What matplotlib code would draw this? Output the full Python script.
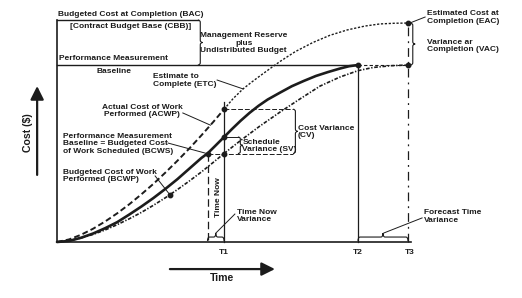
import matplotlib.pyplot as plt
from matplotlib.path import Path
from matplotlib.patches import PathPatch

# earned value diagram: time in weeks (T2 = 100), cost in $K (BAC = 100)
T_NOW, T1, T2, T3 = 50, 55.5, 100, 116.6
BAC, CBB, EAC = 100, 125.4, 123.7

bcws_t = [0, 4, 8, 12, 16, 20, 24, 28, 32, 36, 40, 44, 48, 50, 52.5, 55.5, 58, 61, 64, 67, 70, 74, 78, 82, 86, 90, 94, 97, 100]
bcws_c = [0, 0.6, 2.4, 4.8, 7.8, 11.2, 15.5, 20, 24.8, 30, 35.5, 41.5, 47.5, 50, 54.2, 59.3, 63.6, 68.5, 73, 77, 80.5, 84.3, 88, 91, 93.8, 96, 98, 99.3, 100]

acwp_t = [0, 4, 8, 12, 16, 20, 24, 28, 32, 36, 40, 44, 48, 52, 55.5]
acwp_c = [0, 1.45, 4.1, 7.5, 11.6, 16.2, 21.3, 26.9, 32.8, 39.2, 45.9, 52.9, 60.3, 68.0, 75]

bcwp_t = [0, 4, 8, 12, 16, 20, 24, 28, 32, 36, 40, 44, 48, 52, 55.5, 60.8, 67.4, 74.1, 80.7, 87.4, 94, 100, 105, 111, 116.6]
bcwp_c = [0, 0.7, 2.3, 4.3, 6.8, 9.8, 13.1, 16.7, 20.7, 25.0, 29.6, 34.5, 39.6, 45.1, 50, 57.1, 65.5, 73.4, 80.8, 88.1, 93.2, 96.8, 98.6, 99.6, 100]

etc_t = [55.5, 58.5, 61.8, 64.8, 67.4, 70.8, 74.1, 79.1, 85, 90.7, 96.4, 102.3, 107.3, 112.3, 116.6]
etc_c = [75, 81, 86.5, 90.5, 93.8, 98, 102, 107.5, 112.7, 116.8, 119.8, 122, 123.2, 123.6, 123.7]

ACWP_T1, BCWS_T1, BCWP_T1 = 75, 59.3, 50

plt.rcParams['font.family'] = ['Liberation Sans', 'DejaVu Sans']
plt.rcParams['font.weight'] = 'bold'
K = '#1c1c1c'
FS = 6.0

fig = plt.figure(figsize=(5.22, 2.98), dpi=100)
ax = fig.add_axes([0, 0, 1, 1])
ax.set_xlim(-57 / 3.01, 465 / 3.01)
ax.set_ylim(-56 / 1.77, 242 / 1.77)
ax.axis('off')


def brace_v(x, y0, y1, d=0.8, r=1.3):
    # vertical curly brace, tip to the right
    ym = (y0 + y1) / 2
    v = [(x, y1), (x + d, y1), (x + d, y1 - r), (x + d, ym + r),
         (x + d, ym), (x + 2 * d, ym), (x + d, ym), (x + d, ym - r),
         (x + d, y0 + r), (x + d, y0), (x, y0)]
    c = [Path.MOVETO, Path.CURVE3, Path.CURVE3, Path.LINETO,
         Path.CURVE3, Path.CURVE3, Path.CURVE3, Path.CURVE3,
         Path.LINETO, Path.CURVE3, Path.CURVE3]
    ax.add_patch(PathPatch(Path(v, c), fill=False, lw=0.8, color=K))


def brace_h(x0, x1, y, d=2.2, r=0.7):
    # horizontal curly brace, tip upward
    xm = (x0 + x1) / 2
    v = [(x0, y), (x0, y + d), (x0 + r, y + d), (xm - r, y + d),
         (xm, y + d), (xm, y + 2 * d), (xm, y + d), (xm + r, y + d),
         (x1 - r, y + d), (x1, y + d), (x1, y)]
    c = [Path.MOVETO, Path.CURVE3, Path.CURVE3, Path.LINETO,
         Path.CURVE3, Path.CURVE3, Path.CURVE3, Path.CURVE3,
         Path.LINETO, Path.CURVE3, Path.CURVE3]
    ax.add_patch(PathPatch(Path(v, c), fill=False, lw=0.8, color=K))


def pointer(x0, y0, x1, y1):
    ax.plot([x0, x1], [y0, y1], color=K, lw=0.7)


# frame lines
ax.plot([0, 0], [0, CBB], color=K, lw=1.2)
ax.plot([0, T3 + 1], [0, 0], color=K, lw=1.2)
ax.plot([0, 46.8], [CBB, CBB], color=K, lw=1.0)
ax.plot([0, T2], [BAC, BAC], color=K, lw=1.0)

# verticals
ax.plot([T1, T1], [0, 79], color=K, lw=0.9)
ax.plot([T2, T2], [0, BAC], color=K, lw=0.9)
ax.plot([T3, T3], [0, EAC], color=K, lw=0.9, ls=(0, (7, 4, 1.5, 4)))
ax.plot([T_NOW, T_NOW], [1, BCWP_T1], color=K, lw=0.9, ls=(0, (6, 3)))

# variance helper lines
ax.plot([T1, 78.4], [ACWP_T1, ACWP_T1], color=K, lw=0.7, ls=(0, (5, 2)))
ax.plot([T_NOW, 78.4], [BCWP_T1, BCWP_T1], color=K, lw=0.7, ls=(0, (5, 2)))
ax.plot([T1, 60.1], [BCWS_T1, BCWS_T1], color=K, lw=0.7)
ax.plot([T2, T3], [BAC, BAC], color=K, lw=0.8, ls=(0, (3, 2)))

# curves
ax.plot(bcws_t, bcws_c, color=K, lw=1.9, solid_capstyle='round')
ax.plot(acwp_t, acwp_c, color=K, lw=1.4, ls=(0, (3, 1.6)))
ax.plot(bcwp_t, bcwp_c, color=K, lw=1.2, ls=(0, (2.2, 1, 0.8, 1)))
ax.plot(etc_t, etc_c, color=K, lw=1.0, ls=(0, (1.6, 1.2)))

# points
pts_t = [T1, T1, T1, T_NOW, T2, T3, T3, 37.5]
pts_c = [ACWP_T1, BCWS_T1, BCWP_T1, BCWP_T1, BAC, BAC, EAC, 26.7]
ax.plot(pts_t, pts_c, 'o', color=K, ms=3.2)

# braces
brace_v(46.8, BAC, CBB)
brace_v(78.4, BCWP_T1, ACWP_T1)
brace_v(60.1, BCWP_T1, BCWS_T1, r=1.0)
brace_v(T3 + 0.8, BAC, EAC)
brace_h(T_NOW, T1, 0.6)
brace_h(T2, T3, 0.6)

# text labels
tk = dict(fontsize=FS, color=K, fontweight='bold')
ax.text(0.3, 128.8, 'Budgeted Cost at Completion (BAC)', va='center', **tk)
ax.text(24.6, 121.5, '[Contract Budget Base (CBB)]', ha='center', va='center', **tk)
ax.text(0.7, 103.6, 'Performance Measurement', va='center', **tk)
ax.text(18.8, 96.6, 'Baseline', ha='center', va='center', **tk)
ax.text(62.0, 112.4, 'Management Reserve\nplus\nUndistributed Budget', ha='center',
        va='center', multialignment='center', linespacing=1.1, **tk)
ax.text(31.9, 91.2, 'Estimate to\nComplete (ETC)', va='center', linespacing=1.1, **tk)
ax.text(28.2, 74.0, 'Actual Cost of Work\nPerformed (ACWP)', ha='center', va='center',
        multialignment='center', linespacing=1.1, **tk)
ax.text(2.0, 55.6, 'Performance Measurement\nBaseline = Budgeted Cost\nof Work Scheduled (BCWS)',
        va='center', linespacing=1.1, **tk)
ax.text(2.0, 37.3, 'Budgeted Cost of Work\nPerformed (BCWP)', va='center', linespacing=1.1, **tk)
ax.text(80.0, 62.1, 'Cost Variance\n(CV)', va='center', linespacing=1.1, **tk)
ax.text(61.6, 54.2, 'Schedule\nVariance (SV)', va='center', linespacing=1.1, **tk)
ax.text(59.8, 14.7, 'Time Now\nVariance', va='center', linespacing=1.1, **tk)
ax.text(53.6, 25.4, 'Time Now', rotation=90, ha='center', va='center', **tk)
ax.text(122.9, 126.7, 'Estimated Cost at\nCompletion (EAC)', va='center', linespacing=1.1, **tk)
ax.text(122.9, 110.8, 'Variance ar\nCompletion (VAC)', va='center', linespacing=1.1, **tk)
ax.text(121.9, 14.4, 'Forecast Time\nVariance', va='center', linespacing=1.1, **tk)
for lab, t in zip(['T1', 'T2', 'T3'], [T1, T2, T3 + 0.6]):
    ax.text(t, -6.2, lab, ha='center', va='center', **tk)

# pointer lines
pointer(122.3, 127.1, T3 + 0.6, EAC)
pointer(53.2, 91.5, 61.8, 86.5)
pointer(41.8, 72.9, 51.0, 66.0)
pointer(36.9, 55.9, 49.3, 50.2)
pointer(32.6, 37.3, 37.5, 26.7)
pointer(59.1, 15.8, 52.8, 5.1)
pointer(121.3, 13.6, 108.6, 5.1)

# axis titles with arrows
ax.text(54.8, -20.3, 'Time', ha='center', va='center', fontsize=7.6, color=K, fontweight='bold')
ax.text(-9.6, 61.6, 'Cost ($)', rotation=90, ha='center', va='center', fontsize=7.6,
        color=K, fontweight='bold')
arr = dict(arrowstyle='-|>,head_length=0.8,head_width=0.4', color=K, lw=1.6,
           mutation_scale=10, shrinkA=0, shrinkB=0)
ax.annotate('', xy=(72.4, -15.3), xytext=(37.5, -15.3), arrowprops=arr)
ax.annotate('', xy=(-6.6, 88.1), xytext=(-6.6, 37.9), arrowprops=arr)

fig.savefig('out.png', dpi=100, facecolor='white')
